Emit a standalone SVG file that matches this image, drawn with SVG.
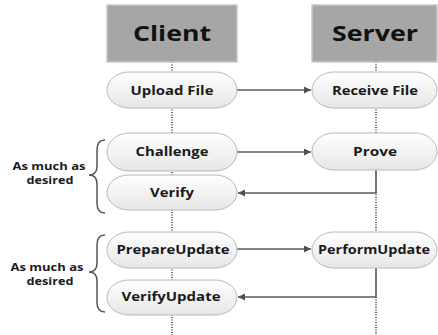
<svg xmlns="http://www.w3.org/2000/svg" width="438" height="335" viewBox="0 0 438 335">
<defs>
<linearGradient id="pg" x1="0" y1="0" x2="0" y2="1">
<stop offset="0" stop-color="#ffffff"/>
<stop offset="1" stop-color="#e6e6e6"/>
</linearGradient>
<marker id="ah" viewBox="0 0 10 10" refX="10" refY="5" markerWidth="9" markerHeight="7" markerUnits="userSpaceOnUse" orient="auto">
<path d="M0,0 L10,5 L0,10 z" fill="#505050"/>
</marker>
<style>
.hdr{fill:#a6a6a6;stroke:#c9c9c9;stroke-width:1.5}
.hdrt{font-family:"Open Sans","DejaVu Sans",sans-serif;font-weight:bold;font-size:22px;fill:#111;text-anchor:middle}
.pill{fill:url(#pg);stroke:#b8b8b8;stroke-width:1}
.pt{font-family:"Open Sans","DejaVu Sans",sans-serif;font-weight:bold;font-size:12px;fill:#1a1a1a;text-anchor:middle}
.life{stroke:#444;stroke-width:1.6;stroke-dasharray:1 1.5;fill:none}
.con{stroke:#5a5a5a;stroke-width:1.5;fill:none}
.brace{stroke:#555;stroke-width:1.5;fill:none}
.lab{font-family:"Open Sans","DejaVu Sans",sans-serif;font-weight:bold;font-size:11px;fill:#1a1a1a;text-anchor:middle}
</style>
</defs>
<rect width="438" height="335" fill="#ffffff"/>
<g id="lifelines">
<line class="life" x1="172" y1="62" x2="172" y2="335"/>
<line class="life" x1="376" y1="62" x2="376" y2="335"/>
</g>
<g id="client">
<rect class="hdr" x="107" y="5" width="130" height="57"/>
<text class="hdrt" x="172" y="41" textLength="78" lengthAdjust="spacingAndGlyphs">Client</text>
</g>
<g id="server">
<rect class="hdr" x="312" y="5" width="125" height="57"/>
<text class="hdrt" x="375" y="41" textLength="86" lengthAdjust="spacingAndGlyphs">Server</text>
</g>
<g id="connectors">
<line class="con" x1="237" y1="90" x2="311" y2="90" stroke-width="2.2" stroke="#6a6a6a" marker-end="url(#ah)"/>
<line class="con" x1="237" y1="152" x2="311" y2="152" stroke-width="1" stroke="#9a9a9a" marker-end="url(#ah)"/>
<polyline class="con" points="376,170 376,193 238,193" marker-end="url(#ah)"/>
<line class="con" x1="237" y1="249" x2="311" y2="249" marker-end="url(#ah)"/>
<polyline class="con" points="376,268 376,297 238,297" marker-end="url(#ah)"/>
</g>
<g id="upload-file">
<rect class="pill" x="107" y="72" width="130" height="36" rx="22" ry="18"/>
<text class="pt" x="172" y="95" textLength="83" lengthAdjust="spacingAndGlyphs">Upload File</text>
</g>
<g id="receive-file">
<rect class="pill" x="312" y="72" width="125" height="36" rx="22" ry="18"/>
<text class="pt" x="375" y="95" textLength="86" lengthAdjust="spacingAndGlyphs">Receive File</text>
</g>
<g id="challenge">
<rect class="pill" x="107" y="133" width="130" height="38" rx="22" ry="19"/>
<text class="pt" x="172" y="156" textLength="73" lengthAdjust="spacingAndGlyphs">Challenge</text>
</g>
<g id="prove">
<rect class="pill" x="312" y="133" width="125" height="37" rx="22" ry="18.5"/>
<text class="pt" x="375" y="156" textLength="44" lengthAdjust="spacingAndGlyphs">Prove</text>
</g>
<g id="verify">
<rect class="pill" x="107" y="175" width="130" height="35" rx="22" ry="17.5"/>
<text class="pt" x="172" y="197" textLength="44" lengthAdjust="spacingAndGlyphs">Verify</text>
</g>
<g id="prepare-update">
<rect class="pill" x="107" y="232" width="130" height="36" rx="22" ry="18"/>
<text class="pt" x="173" y="254" textLength="113" lengthAdjust="spacingAndGlyphs">PrepareUpdate</text>
</g>
<g id="perform-update">
<rect class="pill" x="312" y="232" width="125" height="36" rx="22" ry="18"/>
<text class="pt" x="374" y="254" textLength="112" lengthAdjust="spacingAndGlyphs">PerformUpdate</text>
</g>
<g id="verify-update">
<rect class="pill" x="107" y="280" width="130" height="35" rx="22" ry="17.5"/>
<text class="pt" x="171" y="301" textLength="99" lengthAdjust="spacingAndGlyphs">VerifyUpdate</text>
</g>
<g id="group1">
<path class="brace" d="M105,140 Q97,140 97,150 L97,166 Q97,175 89,175 Q97,175 97,184 L97,203 Q97,213 105,213"/>
<text class="lab" x="49" y="170" textLength="73" lengthAdjust="spacingAndGlyphs">As much as</text>
<text class="lab" x="50" y="184" textLength="47" lengthAdjust="spacingAndGlyphs">desired</text>
</g>
<g id="group2">
<path class="brace" d="M105,235 Q97,235 97,245 L97,263 Q97,272 89,272 Q97,272 97,281 L97,302 Q97,312 105,312"/>
<text class="lab" x="47" y="271" textLength="73" lengthAdjust="spacingAndGlyphs">As much as</text>
<text class="lab" x="50" y="285" textLength="47" lengthAdjust="spacingAndGlyphs">desired</text>
</g>
</svg>
